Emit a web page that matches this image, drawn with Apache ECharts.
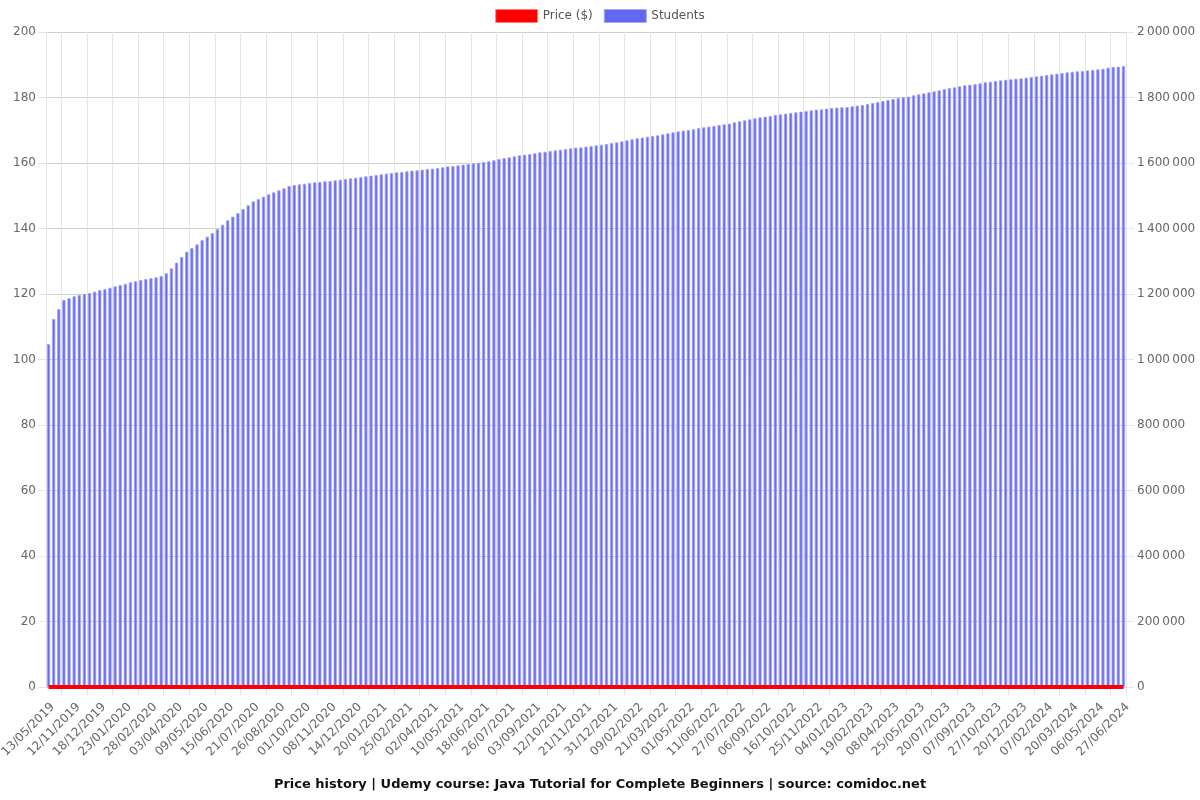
<!DOCTYPE html>
<html>
<head>
<meta charset="utf-8">
<script src="https://cdn.jsdelivr.net/npm/echarts@6/dist/echarts.min.js"></script>
<style>
html,body{margin:0;padding:0;background:#fff;}
#chart{width:1200px;height:800px;}
</style>
</head>
<body>
<div id="chart"></div>
<script>
// Tick labels (every 5th category)
const tickLabels = [
  '13/05/2019','12/11/2019','18/12/2019','23/01/2020','28/02/2020','03/04/2020','09/05/2020',
  '15/06/2020','21/07/2020','26/08/2020','01/10/2020','08/11/2020','14/12/2020','20/01/2021',
  '25/02/2021','02/04/2021','10/05/2021','18/06/2021','26/07/2021','03/09/2021','12/10/2021',
  '21/11/2021','31/12/2021','09/02/2022','21/03/2022','01/05/2022','11/06/2022','27/07/2022',
  '06/09/2022','16/10/2022','25/11/2022','04/01/2023','19/02/2023','08/04/2023','25/05/2023',
  '20/07/2023','07/09/2023','27/10/2023','20/12/2023','07/02/2024','20/03/2024','06/05/2024',
  '27/06/2024'
];

// Students (211 snapshots)
const students = [
  1047000,1123500,1154000,1181500,1186700,1193000,1196800,1200000,1203000,1207000,
  1212000,1215000,1219000,1223000,1227000,1231000,1235500,1238500,1242500,1245600,
  1247800,1251000,1255000,1263000,1278000,1295500,1313000,1329000,1340000,1351500,
  1364700,1374800,1386000,1398300,1411500,1424800,1436000,1447000,1459300,1470500,
  1482800,1490000,1497000,1504000,1510000,1516500,1522500,1529600,1532600,1534700,
  1536700,1538700,1540800,1541800,1543800,1544800,1546900,1548900,1551000,1553000,
  1555000,1557000,1559200,1561200,1563200,1565300,1567300,1569300,1571400,1572400,
  1574400,1576500,1577500,1579500,1581500,1582600,1584600,1586600,1589700,1590700,
  1592700,1594800,1596800,1598800,1600800,1602900,1604900,1608000,1612000,1615000,
  1617200,1620200,1623300,1625300,1627300,1629400,1632400,1634400,1636500,1638500,
  1640500,1642600,1644600,1646700,1647700,1649700,1651700,1653800,1655800,1657800,
  1660900,1662900,1666000,1669000,1672100,1675100,1677200,1680200,1682300,1684300,
  1687400,1690400,1693500,1696500,1698600,1700600,1702700,1706700,1708800,1710800,
  1712800,1715900,1718000,1720000,1724100,1727100,1730200,1733200,1736300,1739300,
  1741400,1743400,1746500,1748500,1750600,1752600,1754600,1756700,1758700,1760700,
  1762800,1763800,1765800,1767800,1768900,1769900,1770900,1772900,1775000,1777000,
  1780000,1783100,1786100,1789200,1792200,1795300,1798300,1800400,1802400,1806500,
  1809500,1812600,1815600,1818700,1821700,1825800,1828800,1830900,1833900,1837000,
  1839000,1841000,1843100,1846100,1848100,1850200,1852200,1854200,1855300,1857300,
  1858300,1860300,1862400,1864400,1866400,1868500,1870500,1872500,1874600,1876600,
  1878600,1879700,1880700,1882700,1883800,1885800,1887800,1890900,1893000,1894000,
  1896000
];

// Price ($) (free course)
const price = [
  0,0,0,0,0,0,0,0,0,0, 0,0,0,0,0,0,0,0,0,0, 0,0,0,0,0,0,0,0,0,0,
  0,0,0,0,0,0,0,0,0,0, 0,0,0,0,0,0,0,0,0,0, 0,0,0,0,0,0,0,0,0,0,
  0,0,0,0,0,0,0,0,0,0, 0,0,0,0,0,0,0,0,0,0, 0,0,0,0,0,0,0,0,0,0,
  0,0,0,0,0,0,0,0,0,0, 0,0,0,0,0,0,0,0,0,0, 0,0,0,0,0,0,0,0,0,0,
  0,0,0,0,0,0,0,0,0,0, 0,0,0,0,0,0,0,0,0,0, 0,0,0,0,0,0,0,0,0,0,
  0,0,0,0,0,0,0,0,0,0, 0,0,0,0,0,0,0,0,0,0, 0,0,0,0,0,0,0,0,0,0,
  0,0,0,0,0,0,0,0,0,0, 0,0,0,0,0,0,0,0,0,0, 0,0,0,0,0,0,0,0,0,0,
  0
];

const categories = students.map((_, i) => (i % 5 === 0 ? tickLabels[i / 5] : String(i)));

const FONT = 'DejaVu Sans';
const chart = echarts.init(document.getElementById('chart'), null, {renderer: 'canvas'});

const gridLineColor = '#e5e5e5';
const hGridColor = '#cfcfcf';

chart.setOption({
  animation: false,
  backgroundColor: '#ffffff',
  textStyle: {fontFamily: FONT},
  title: {
    text: 'Price history | Udemy course: Java Tutorial for Complete Beginners | source: comidoc.net',
    left: 'center',
    top: 773,
    textStyle: {fontFamily: FONT, fontSize: 13, fontWeight: 'bold', color: '#111'}
  },
  legend: {
    top: 4,
    left: 'center',
    itemWidth: 42,
    itemHeight: 13,
    itemGap: 11,
    textStyle: {fontFamily: FONT, fontSize: 12, color: '#555'},
    data: [
      {name: 'Price ($)', icon: 'rect', itemStyle: {color: '#ff0000', borderColor: '#ff8080', borderWidth: 1}},
      {name: 'Students', icon: 'rect', itemStyle: {color: '#6366f1', borderColor: '#a3a5f6', borderWidth: 1}}
    ]
  },
  grid: {left: 46, right: 74, top: 32, bottom: 113, containLabel: false, outerBoundsMode: 'none'},
  xAxis: {
    type: 'category',
    data: categories,
    boundaryGap: true,
    axisLine: {show: true, lineStyle: {color: '#d0d0d0', width: 1}},
    axisTick: {
      show: true, length: 8,
      interval: (idx) => idx % 5 === 3,
      lineStyle: {color: gridLineColor}
    },
    splitLine: {
      show: true,
      interval: (idx) => idx % 5 === 3,
      lineStyle: {color: gridLineColor, width: 1}
    },
    axisLabel: {
      interval: 4,
      rotate: 45,
      margin: 14,
      verticalAlign: 'top',
      fontFamily: FONT,
      fontSize: 12,
      color: '#666'
    }
  },
  yAxis: [
    {
      type: 'value',
      min: 0, max: 200, interval: 20,
      position: 'left',
      axisLine: {show: true, lineStyle: {color: gridLineColor}},
      axisTick: {show: true, length: 8, lineStyle: {color: gridLineColor}},
      splitLine: {show: true, lineStyle: {color: hGridColor}},
      axisLabel: {fontFamily: FONT, fontSize: 12, color: '#666', margin: 10}
    },
    {
      type: 'value',
      min: 0, max: 2000000, interval: 200000,
      position: 'right',
      axisLine: {show: true, lineStyle: {color: gridLineColor}},
      axisTick: {show: true, length: 8, lineStyle: {color: gridLineColor}},
      splitLine: {show: false},
      axisLabel: {
        fontFamily: FONT, fontSize: 12, color: '#666', margin: 11,
        formatter: (v) => String(v).replace(/\B(?=(\d{3})+(?!\d))/g, '\u202F')
      }
    }
  ],
  series: [
    {
      name: 'Students',
      type: 'bar',
      yAxisIndex: 1,
      data: students,
      barWidth: 3.2,
      itemStyle: {color: '#6a6df1', borderColor: '#a0a2f6', borderWidth: 0.8},
      z: 2
    },
    {
      name: 'Price ($)',
      type: 'line',
      yAxisIndex: 0,
      data: price,
      showSymbol: false,
      lineStyle: {color: '#ff0000', width: 4},
      itemStyle: {color: '#ff0000'},
      z: 5
    }
  ]
});
</script>
</body>
</html>
